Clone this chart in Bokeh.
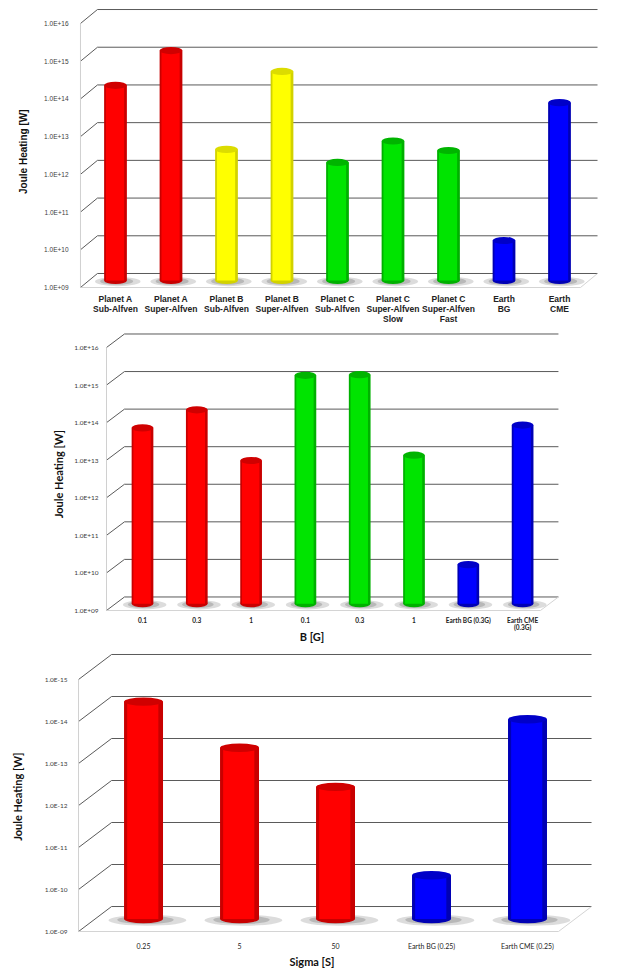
import numpy as np
from bokeh.plotting import figure
from bokeh.layouts import column
from bokeh.models import FixedTicker
from bokeh.core.properties import value
from bokeh.embed import file_html
from bokeh.resources import INLINE

# ---------------- data ----------------
p1_labels = ["Planet A\nSub-Alfven", "Planet A\nSuper-Alfven", "Planet B\nSub-Alfven",
             "Planet B\nSuper-Alfven", "Planet C\nSub-Alfven", "Planet C\nSuper-Alfven\nSlow",
             "Planet C\nSuper-Alfven\nFast", "Earth\nBG", "Earth\nCME"]
p1_values = [1.5e14, 1.25e15, 3.0e12, 3.5e14, 1.35e12, 5.0e12, 2.8e12, 1.15e10, 5.2e13]
p1_colors = ["#FF0000", "#FF0000", "#FFFF00", "#FFFF00", "#00E400", "#00E400", "#00E400",
             "#0000FF", "#0000FF"]
p1_ticks = [9, 10, 11, 12, 13, 14, 15, 16]
p1_tick_labels = ["1.0E+09", "1.0E+10", "1.0E+11", "1.0E+12", "1.0E+13", "1.0E+14",
                  "1.0E+15", "1.0E+16"]

p2_labels = ["0.1", "0.3", "1", "0.1", "0.3", "1", "Earth BG (0.3G)", "Earth CME\n(0.3G)"]
p2_values = [4.8e13, 1.45e14, 6.5e12, 1.2e15, 1.25e15, 9.0e12, 1.1e10, 5.7e13]
p2_colors = ["#FF0000", "#FF0000", "#FF0000", "#00E400", "#00E400", "#00E400",
             "#0000FF", "#0000FF"]
p2_ticks = [9, 10, 11, 12, 13, 14, 15, 16]
p2_tick_labels = ["1.0E+09", "1.0E+10", "1.0E+11", "1.0E+12", "1.0E+13", "1.0E+14",
                  "1.0E+15", "1.0E+16"]

p3_labels = ["0.25", "5", "50", "Earth BG (0.25)", "Earth CME (0.25)"]
p3_values = [1.5e14, 1.2e13, 1.4e12, 1.1e10, 5.7e13]
p3_colors = ["#FF0000", "#FF0000", "#FF0000", "#0000FF", "#0000FF"]
p3_ticks = [9, 10, 11, 12, 13, 14, 15]
p3_tick_labels = ["1.0E-09", "1.0E-10", "1.0E-11", "1.0E-12", "1.0E-13", "1.0E-14",
                  "1.0E-15"]

y_title = "Joule Heating [W]"

cap_colors = {"#FF0000": "#D00000", "#FFFF00": "#DCDC00", "#00E400": "#00B400",
              "#0000FF": "#0000C8"}
edge_colors = {"#FF0000": "#C80000", "#FFFF00": "#D2D200", "#00E400": "#00B000",
               "#0000FF": "#0000B4"}

FRAME_W = 623


def make_panel(labels, values, colors, ticks, tick_labels, *, frame_h, x_range, front_x,
               y_range, border_top, border_bottom, back_right, dx, dy, bar_w, cap_h, font,
               ytick_size, xtick_size, xtick_bold, ytitle_size, ylabel_right_px,
               ytitle_px, ytitle_y, xlabel=None, xlabel_size="11px", xlabel_standoff=0,
               xtick_standoff=4, xtick_line_height=1.2):
    p = figure(frame_width=FRAME_W, frame_height=frame_h, x_range=x_range, y_range=y_range,
               output_backend="svg", toolbar_location=None, y_axis_location=None,
               min_border_left=0, min_border_right=0,
               min_border_top=border_top, min_border_bottom=border_bottom)
    p.outline_line_color = None
    p.xgrid.visible = False
    p.ygrid.visible = False
    p.background_fill_color = "white"
    p.border_fill_color = "white"

    ppu = FRAME_W / (x_range[1] - x_range[0])

    back_left = front_x + dx
    floor_right = back_right - dx
    t = np.array(ticks, dtype=float)

    # walls / grid
    p.segment(x0=[back_left] * len(t), y0=list(t + dy), x1=[back_right] * len(t),
              y1=list(t + dy), line_color="#5a5a5a", line_width=1)
    p.segment(x0=[front_x] * len(t), y0=list(t), x1=[back_left] * len(t),
              y1=list(t + dy), line_color="#5a5a5a", line_width=1)
    p.segment(x0=[front_x], y0=[t[0]], x1=[front_x], y1=[t[-1]],
              line_color="#d0d0d0", line_width=1)
    p.segment(x0=[front_x, floor_right], y0=[t[0], t[0]], x1=[floor_right, back_right],
              y1=[t[0], t[0] + dy], line_color="#d4d4d4", line_width=1)

    n = len(values)
    xs = np.arange(n, dtype=float)
    base = t[0] + dy / 2.0
    tops = np.log10(np.array(values)) + dy / 2.0
    caps = [cap_colors[c] for c in colors]
    edges = [edge_colors[c] for c in colors]

    # shadows
    p.ellipse(x=list(xs + bar_w * 0.1), y=[base - cap_h * 0.15] * n, width=bar_w * 2.0,
              height=cap_h * 1.3, fill_color="#c4c4c4", line_color=None, fill_alpha=0.6)
    p.ellipse(x=list(xs + bar_w * 0.05), y=[base - cap_h * 0.1] * n, width=bar_w * 1.45,
              height=cap_h * 1.0, fill_color="#a8a8a8", line_color=None, fill_alpha=0.7)
    # cylinder bottoms
    p.ellipse(x=list(xs), y=[base] * n, width=bar_w, height=cap_h, fill_color=edges,
              line_color=None)
    # cylinder bodies
    p.vbar(x=list(xs), width=bar_w, bottom=base, top=list(tops), fill_color=edges,
           line_color=None)
    p.vbar(x=list(xs - bar_w * 0.02), width=bar_w * 0.8, bottom=base, top=list(tops),
           fill_color=colors, line_color=None)
    # caps
    p.ellipse(x=list(xs), y=list(tops), width=bar_w, height=cap_h, fill_color=caps,
              line_color=None)

    # value-axis labels on the front edge of the 3-D box
    lab_x = x_range[0] + ylabel_right_px / ppu
    p.text(x=[lab_x] * len(ticks), y=list(ticks), text=list(tick_labels),
           text_align="right", text_baseline="middle", text_font=value(font),
           text_font_size=ytick_size, text_color="#404040")
    p.text(x=[x_range[0] + ytitle_px / ppu], y=[ytitle_y], text=[y_title],
           angle=np.pi / 2, text_align="center", text_baseline="middle",
           text_font=value(font), text_font_size=ytitle_size, text_font_style="bold",
           text_color="#111111")

    # category axis
    p.xaxis.ticker = FixedTicker(ticks=list(range(n)))
    p.xaxis.major_label_overrides = {i: lab for i, lab in enumerate(labels)}
    p.xaxis.axis_line_color = None
    p.xaxis.major_tick_line_color = None
    p.xaxis.minor_tick_line_color = None
    p.xaxis.major_tick_out = 0
    p.xaxis.major_tick_in = 0
    p.xaxis.major_label_standoff = xtick_standoff
    p.xaxis.major_label_text_font = font
    p.xaxis.major_label_text_font_size = xtick_size
    p.xaxis.major_label_text_line_height = xtick_line_height
    p.xaxis.major_label_text_font_style = "bold" if xtick_bold else "normal"
    p.xaxis.major_label_text_color = "#222222"
    if xlabel:
        p.xaxis.axis_label = xlabel
        p.xaxis.axis_label_text_font = font
        p.xaxis.axis_label_text_font_size = xlabel_size
        p.xaxis.axis_label_text_font_style = "bold"
        p.xaxis.axis_label_text_color = "#111111"
        p.xaxis.axis_label_standoff = xlabel_standoff
    return p


p1 = make_panel(p1_labels, p1_values, p1_colors, p1_ticks, p1_tick_labels,
                frame_h=284, x_range=(-2.072, 9.153), front_x=-0.631,
                y_range=(8.867, 16.398), border_top=8, border_bottom=36,
                back_right=8.685, dx=0.306, dy=0.371, bar_w=0.41, cap_h=0.19,
                font="Liberation Sans", ytick_size="6.5px", xtick_size="8.5px",
                xtick_bold=True, ytitle_size="10px", ylabel_right_px=68, ytitle_px=23,
                ytitle_y=12.6, xtick_standoff=1, xtick_line_height=1.0)

p2 = make_panel(p2_labels, p2_values, p2_colors, p2_ticks, p2_tick_labels,
                frame_h=285, x_range=(-2.615, 8.858), front_x=-0.663,
                y_range=(8.92, 16.506), border_top=0, border_bottom=30,
                back_right=7.66, dx=0.331, dy=0.36, bar_w=0.40, cap_h=0.19,
                font="Lato", ytick_size="6.5px", xtick_size="6.5px", xtick_bold=True,
                ytitle_size="11px", ylabel_right_px=98, ytitle_px=58, ytitle_y=12.63,
                xlabel="B [G]", xlabel_size="11px", xlabel_standoff=-4, xtick_standoff=3,
                xtick_line_height=1.1)

p3 = make_panel(p3_labels, p3_values, p3_colors, p3_ticks, p3_tick_labels,
                frame_h=286, x_range=(-1.490, 5.0), front_x=-0.677,
                y_range=(8.905, 15.714), border_top=3, border_bottom=30,
                back_right=4.667, dx=0.344, dy=0.595, bar_w=0.406, cap_h=0.2,
                font="Lato", ytick_size="6.5px", xtick_size="7px", xtick_bold=False,
                ytitle_size="11px", ylabel_right_px=67, ytitle_px=17, ytitle_y=12.21,
                xlabel="Sigma [S]", xlabel_size="11px", xlabel_standoff=2,
                xtick_standoff=6)

layout = column(p1, p2, p3, spacing=0)
open("out.html", "w").write(file_html(layout, INLINE))
